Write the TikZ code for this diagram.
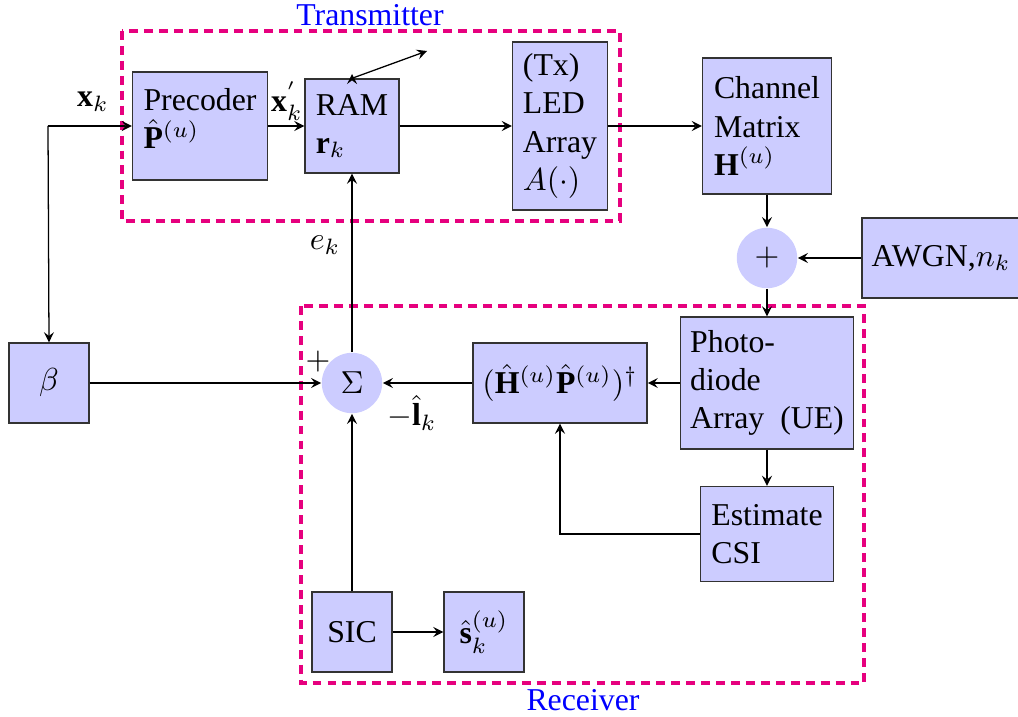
\documentclass[tikz,border=0pt]{standalone}
\usepackage{fontspec}
\setmainfont{Liberation Serif}
\usetikzlibrary{arrows}
\definecolor{framepink}{RGB}{230,0,126}
\tikzset{
  block/.style={draw=black!80, fill=blue!20, align=left, inner sep=3pt},
  sumnode/.style={circle, fill=blue!20, minimum size=19pt, inner sep=0pt},
  area/.style={draw=framepink, line width=1.2pt, dash pattern=on 2.8pt off 1.9pt},
}
\begin{document}
\begin{tikzpicture}[x=0.3145pt, y=-0.3145pt, >=stealth]
\useasboundingbox (0,0) rectangle (1018,717);

\draw[area] (122,31) rectangle (620,221);
\draw[area] (301,306) rectangle (864,683);
\node[text=blue] (txlabel) at (370,15) {Transmitter};
\node[text=blue] (rxlabel) at (583,700) {Receiver};

\node[block, minimum width=42.5pt, minimum height=34pt] (prec) at (200,126) {Precoder\\$\hat{\mathbf{P}}^{(u)}$\\[-7.5pt]};
\node[block, minimum width=29.6pt, minimum height=29.6pt] (ram) at (352,126) {RAM\\$\mathbf{r}_k$};
\node[block, minimum width=29.9pt, minimum height=52.8pt] (led) at (560,126) {(Tx)\\LED\\Array\\$A(\cdot)$};
\node[block, minimum width=40.6pt, minimum height=42.8pt] (chan) at (767,126) {Channel\\Matrix\\$\mathbf{H}^{(u)}$};
\node[sumnode] (plus) at (767,258) {$+$};
\node[block, minimum width=47.2pt, minimum height=25.2pt] (awgn) at (941,258) {AWGN,$n_k$};
\node[block, minimum width=53.5pt, minimum height=41.5pt] (photo) at (767,383) {Photo-\\diode\\Array~~(UE)};
\node[block, minimum width=41.8pt, minimum height=29.9pt] (est) at (767,534) {Estimate\\CSI};
\node[block, minimum width=51.9pt, minimum height=25.2pt] (inv) at (560,383) {$(\hat{\mathbf{H}}^{(u)}\hat{\mathbf{P}}^{(u)})^{\dagger}$};
\node[sumnode] (sum) at (352,383) {$\Sigma$};
\node[block, minimum width=25.2pt, minimum height=25.2pt] (beta) at (49,383) {$\beta$};
\node[block, minimum width=25.2pt, minimum height=25.2pt] (sic) at (352,632) {SIC};
\node[block, minimum width=25.2pt, minimum height=25.2pt] (shat) at (484,632) {$\hat{\mathbf{s}}_k^{(u)}$};

\node (xk) at (93,102) {$\mathbf{x}_k$};
\node (xkp) at (287,101) {$\mathbf{x}_k^{'}$};
\node (ek) at (325,245) {$e_k$};
\node (plussign) at (318,362) {$+$};
\node (lk) at (412,413) {$-\hat{\mathbf{l}}_k$};

\coordinate (split) at (48,126);
\coordinate (ramout) at (427,51);
\coordinate (ramtip) at (352,74);
\draw[->] (split) -- (prec.west);
\draw[->] (split) -- (beta.north);
\draw[->] (prec) -- (ram);
\draw[->] (ram) -- (led);
\draw[->] (led) -- (chan);
\draw[->] (ram.north) -- (ramout);
\draw[->] (ram.north) -- (ramtip);
\draw[->] (chan) -- (plus);
\draw[->] (awgn) -- (plus);
\draw[->] (plus) -- (photo);
\draw[->] (photo) -- (inv);
\draw[->] (photo) -- (est);
\draw[->] (est.west) -| (inv.south);
\draw[->] (inv) -- (sum);
\draw[->] (beta) -- (sum);
\draw[->] (sum) -- (ram);
\draw[->] (sic) -- (sum);
\draw[->] (sic) -- (shat);
\end{tikzpicture}
\end{document}
